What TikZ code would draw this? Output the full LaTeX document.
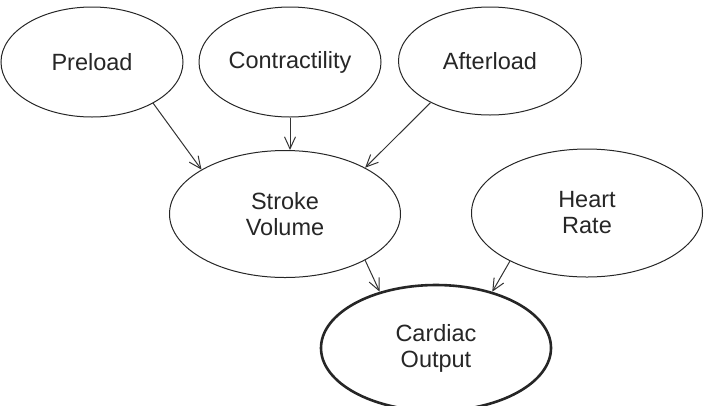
\documentclass[tikz,border=0pt]{standalone}
\usepackage{fontspec}
\setmainfont{Liberation Sans}
\usetikzlibrary{shapes.geometric,arrows.meta}
\begin{document}
\begin{tikzpicture}[x=1pt,y=-1pt,
  oval/.style={draw=black!85, ellipse, inner sep=0pt, line width=1pt, align=center,
    font=\fontsize{23.5}{26}\selectfont, text=black!85},
  thick oval/.style={oval, line width=2.6pt},
  arr/.style={draw=black!80, line width=1pt, -{Straight Barb[length=12pt,width=11pt]}}]
\useasboundingbox (0,0) rectangle (706,405);
\node[oval, minimum width=182pt, minimum height=110pt] (P) at (92,62) {Preload};
\node[oval, minimum width=182pt, minimum height=110pt] (C) at (290,62) {Contractility};
\node[oval, minimum width=183pt, minimum height=108pt] (A) at (490,61) {Afterload};
\node[oval, minimum width=231pt, minimum height=127pt] (SV) at (285,214) {Stroke\\Volume};
\node[oval, minimum width=231pt, minimum height=128pt] (HR) at (587,213) {Heart\\Rate};
\node[thick oval, minimum width=230pt, minimum height=126pt] (CO) at (436,348) {Cardiac\\Output};
\draw[arr] (P.-34) -- (SV.152);
\draw[arr] (C.south) -- (C.south |- SV.north);
\draw[arr] (A.-145) -- (SV.30);
\draw[arr] (SV.-30) -- (CO.135);
\draw[arr] (HR.-148) -- (CO.45);
\end{tikzpicture}
\end{document}
